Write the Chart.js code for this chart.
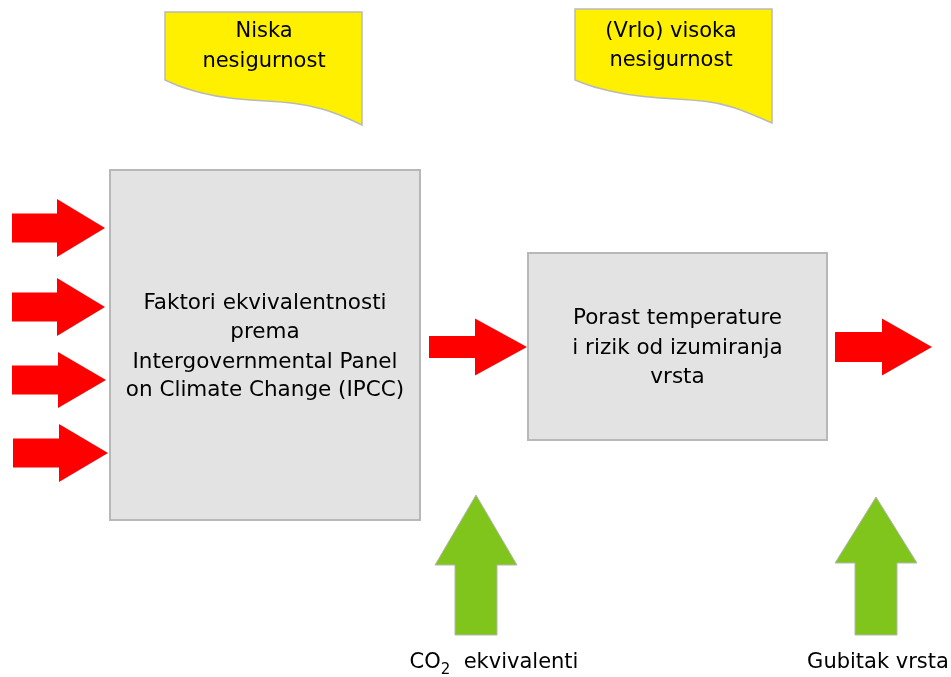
<!DOCTYPE html>
<html>
<head>
<meta charset="utf-8">
<script src="https://cdn.jsdelivr.net/npm/chart.js@4/dist/chart.umd.min.js"></script>
<style>
html,body{margin:0;padding:0;background:#fff;}
#wrap{width:951px;height:677px;position:relative;}
</style>
</head>
<body>
<div id="wrap"><canvas id="c" width="951" height="677"></canvas></div>
<script>
// ---- diagram content (diagram space: x 0..951, y 0..677, y downward) ----
const noteLabels = [["Niska", "nesigurnost"], ["(Vrlo) visoka", "nesigurnost"]];
const noteLeft = [165, 575];
const noteRight = [362, 772];
const noteTop = [12, 9];
const noteTextX = [264, 671];
const noteTextY = [[32, 62], [32, 61]];
const noteBottomX = [[165, 183, 217, 250, 283, 307, 337, 362], [575, 593, 627, 660, 693, 720, 747, 772]];
const noteBottomY = [[80, 88, 97, 100, 102, 105, 113, 125], [80, 87, 95, 98, 100, 103, 112, 123]];

const boxLabels = [["Faktori ekvivalentnosti", "prema", "Intergovernmental Panel", "on Climate Change (IPCC)"],
                   ["Porast temperature", "i rizik od izumiranja", "vrsta"]];
const boxLeft = [110, 528];
const boxRight = [420, 827];
const boxTop = [170, 253];
const boxBottom = [520, 440];
const boxTextY = [[303, 332, 362, 390], [318, 348, 377]];

const redTailX = [12, 12, 12, 13, 429, 835];
const redTipX = [105, 105, 106, 108, 527, 932];
const redY = [228, 307, 380, 453, 347, 347];
const redShaftHalf = [14.5, 14.5, 14.5, 14.5, 11, 15];
const redHeadLen = [48, 48, 48, 49, 52, 50];
const redHeadHalf = [29, 29, 28, 29, 28.5, 28.5];

const greenTipX = [476, 876];
const greenTipY = [495, 497];
const greenHeadBaseY = [565, 563];
const greenBottomY = [635, 635];
const greenHeadHalf = [41, 41];
const greenShaftHalf = [21, 21];

const bottomLabels = [["CO", "2", "  ekvivalenti"], ["Gubitak vrsta"]];
const bottomLabelX = [494, 878];
const bottomLabelY = [663, 663];

const FONT = '"DejaVu Sans", Verdana, sans-serif';

const diagramPlugin = {
  id: 'diagram',
  afterDatasetsDraw(chart) {
    const ctx = chart.ctx;
    const sx = chart.scales.x, sy = chart.scales.y;
    const X = v => sx.getPixelForValue(v);
    const Y = v => sy.getPixelForValue(v);
    ctx.save();

    // yellow notes
    for (let i = 0; i < noteLabels.length; i++) {
      const bx = noteBottomX[i], by = noteBottomY[i];
      ctx.beginPath();
      ctx.moveTo(X(noteLeft[i]), Y(noteTop[i]));
      ctx.lineTo(X(noteRight[i]), Y(noteTop[i]));
      ctx.lineTo(X(bx[bx.length - 1]), Y(by[by.length - 1]));
      for (let k = bx.length - 2; k >= 1; k--) {
        const mx = (bx[k] + bx[k - 1]) / 2, my = (by[k] + by[k - 1]) / 2;
        ctx.quadraticCurveTo(X(bx[k]), Y(by[k]), X(mx), Y(my));
      }
      ctx.lineTo(X(bx[0]), Y(by[0]));
      ctx.closePath();
      ctx.fillStyle = '#fff000';
      ctx.fill();
      ctx.lineWidth = 1.5;
      ctx.strokeStyle = '#b9b9b9';
      ctx.stroke();
      ctx.fillStyle = '#000';
      ctx.font = '21px ' + FONT;
      ctx.textAlign = 'center';
      ctx.textBaseline = 'middle';
      noteLabels[i].forEach((t, j) => ctx.fillText(t, X(noteTextX[i]), Y(noteTextY[i][j])));
    }

    // gray boxes
    for (let i = 0; i < boxLabels.length; i++) {
      const x0 = X(boxLeft[i]), x1 = X(boxRight[i]), y0 = Y(boxTop[i]), y1 = Y(boxBottom[i]);
      ctx.fillStyle = '#e3e3e3';
      ctx.fillRect(x0, y0, x1 - x0, y1 - y0);
      ctx.lineWidth = 2;
      ctx.strokeStyle = '#b8b8b8';
      ctx.strokeRect(x0, y0, x1 - x0, y1 - y0);
      ctx.fillStyle = '#000';
      ctx.font = '21.5px ' + FONT;
      ctx.textAlign = 'center';
      ctx.textBaseline = 'middle';
      const cx = (x0 + x1) / 2;
      boxLabels[i].forEach((t, j) => ctx.fillText(t, cx, Y(boxTextY[i][j])));
    }

    // red arrows (pointing right)
    ctx.fillStyle = '#ff0000';
    for (let i = 0; i < redTipX.length; i++) {
      const hb = redTipX[i] - redHeadLen[i];
      ctx.beginPath();
      ctx.moveTo(X(redTailX[i]), Y(redY[i] - redShaftHalf[i]));
      ctx.lineTo(X(hb), Y(redY[i] - redShaftHalf[i]));
      ctx.lineTo(X(hb), Y(redY[i] - redHeadHalf[i]));
      ctx.lineTo(X(redTipX[i]), Y(redY[i]));
      ctx.lineTo(X(hb), Y(redY[i] + redHeadHalf[i]));
      ctx.lineTo(X(hb), Y(redY[i] + redShaftHalf[i]));
      ctx.lineTo(X(redTailX[i]), Y(redY[i] + redShaftHalf[i]));
      ctx.closePath();
      ctx.fill();
    }

    // green arrows (pointing up)
    for (let i = 0; i < greenTipX.length; i++) {
      const cx = greenTipX[i];
      ctx.beginPath();
      ctx.moveTo(X(cx), Y(greenTipY[i]));
      ctx.lineTo(X(cx + greenHeadHalf[i]), Y(greenHeadBaseY[i]));
      ctx.lineTo(X(cx + greenShaftHalf[i]), Y(greenHeadBaseY[i]));
      ctx.lineTo(X(cx + greenShaftHalf[i]), Y(greenBottomY[i]));
      ctx.lineTo(X(cx - greenShaftHalf[i]), Y(greenBottomY[i]));
      ctx.lineTo(X(cx - greenShaftHalf[i]), Y(greenHeadBaseY[i]));
      ctx.lineTo(X(cx - greenHeadHalf[i]), Y(greenHeadBaseY[i]));
      ctx.closePath();
      ctx.fillStyle = '#80c51c';
      ctx.fill();
      ctx.lineWidth = 1;
      ctx.strokeStyle = '#b5b5b5';
      ctx.stroke();
    }

    // bottom labels
    ctx.fillStyle = '#000';
    ctx.textBaseline = 'middle';
    ctx.textAlign = 'left';
    for (let i = 0; i < bottomLabels.length; i++) {
      const parts = bottomLabels[i];
      const fonts = parts.length === 3 ? ['21px ', '15px ', '21px '] : ['21px '];
      const offs = parts.length === 3 ? [0, 7, 0] : [0];
      let total = 0;
      const widths = parts.map((p, k) => { ctx.font = fonts[k] + FONT; const w = ctx.measureText(p).width; total += w; return w; });
      let x = X(bottomLabelX[i]) - total / 2;
      parts.forEach((p, k) => {
        ctx.font = fonts[k] + FONT;
        ctx.fillText(p, x, Y(bottomLabelY[i]) + offs[k]);
        x += widths[k];
      });
    }
    ctx.restore();
  }
};

new Chart(document.getElementById('c'), {
  type: 'scatter',
  data: { datasets: [{ data: redTipX.map((v, i) => ({ x: v, y: redY[i] })), pointRadius: 0, showLine: false }] },
  options: {
    responsive: false,
    animation: false,
    layout: { padding: 0 },
    plugins: { legend: { display: false }, tooltip: { enabled: false } },
    scales: {
      x: { type: 'linear', min: 0, max: 951, display: false },
      y: { type: 'linear', min: 0, max: 677, reverse: true, display: false }
    }
  },
  plugins: [diagramPlugin]
});
</script>
</body>
</html>
